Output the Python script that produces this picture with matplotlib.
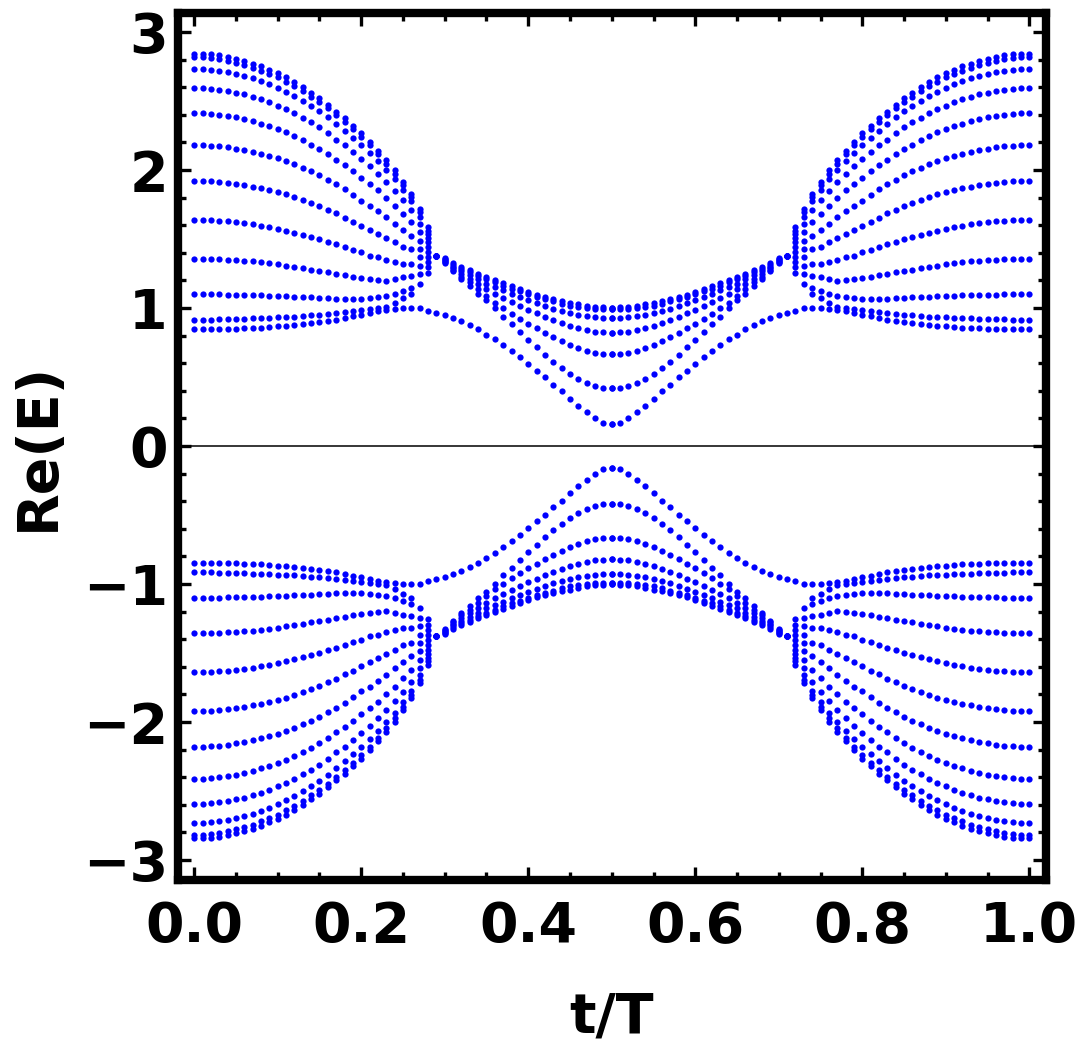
import numpy as np
import matplotlib.pyplot as plt
from matplotlib.ticker import MultipleLocator, FormatStrFormatter

plt.rcParams['font.family'] = ['DejaVu Sans']
plt.rcParams['font.weight'] = 'bold'

# The figure is mirror symmetric in t/T about 0.5 and in Re(E) about 0.
t_outer = np.round(np.arange(0, 29) * 0.01, 2)    # 0.00 ... 0.28
t_lowest = np.round(np.arange(0, 51) * 0.01, 2)   # 0.00 ... 0.50
t_inner = np.round(np.arange(29, 51) * 0.01, 2)   # 0.29 ... 0.50

# outer levels, top to bottom, until they pinch together near t/T = 0.28
band_1 = [2.843, 2.843, 2.838, 2.831, 2.821, 2.806, 2.792, 2.772, 2.751, 2.726, 2.700, 2.671, 2.637, 2.600, 2.561,
          2.520, 2.471, 2.423, 2.374, 2.318, 2.265, 2.204, 2.139, 2.071, 1.998, 1.913, 1.828, 1.719, 1.585]
band_2 = [2.816, 2.816, 2.811, 2.802, 2.792, 2.777, 2.763, 2.743, 2.721, 2.697, 2.671, 2.641, 2.610, 2.573, 2.532,
          2.491, 2.447, 2.399, 2.350, 2.294, 2.241, 2.180, 2.115, 2.047, 1.974, 1.889, 1.804, 1.694, 1.561]
band_3 = [2.731, 2.731, 2.726, 2.720, 2.710, 2.696, 2.683, 2.664, 2.645, 2.621, 2.597, 2.569, 2.537, 2.503, 2.466,
          2.427, 2.382, 2.333, 2.284, 2.233, 2.180, 2.124, 2.064, 2.003, 1.937, 1.852, 1.775, 1.658, 1.537]
band_4 = [2.593, 2.593, 2.589, 2.582, 2.574, 2.560, 2.548, 2.531, 2.512, 2.490, 2.467, 2.442, 2.412, 2.379, 2.345,
          2.309, 2.265, 2.221, 2.180, 2.132, 2.083, 2.027, 1.974, 1.913, 1.847, 1.784, 1.707, 1.610, 1.508]
band_5 = [2.411, 2.411, 2.407, 2.401, 2.393, 2.381, 2.370, 2.354, 2.337, 2.317, 2.297, 2.273, 2.246, 2.217, 2.185,
          2.153, 2.115, 2.076, 2.034, 1.991, 1.945, 1.901, 1.852, 1.799, 1.743, 1.682, 1.622, 1.549, 1.476]
band_6 = [2.180, 2.180, 2.177, 2.172, 2.165, 2.155, 2.146, 2.132, 2.118, 2.102, 2.084, 2.065, 2.042, 2.017, 1.991,
          1.964, 1.930, 1.896, 1.860, 1.821, 1.779, 1.743, 1.702, 1.658, 1.610, 1.566, 1.525, 1.488, 1.440]
band_7 = [1.920, 1.920, 1.917, 1.913, 1.908, 1.899, 1.891, 1.880, 1.868, 1.854, 1.840, 1.824, 1.805, 1.784, 1.762,
          1.739, 1.712, 1.687, 1.653, 1.627, 1.597, 1.566, 1.537, 1.508, 1.476, 1.444, 1.427, 1.427, 1.403]
band_8 = [1.639, 1.639, 1.636, 1.632, 1.628, 1.622, 1.616, 1.607, 1.597, 1.585, 1.573, 1.560, 1.546, 1.531, 1.515,
          1.498, 1.480, 1.464, 1.440, 1.423, 1.403, 1.379, 1.367, 1.347, 1.330, 1.318, 1.318, 1.367, 1.367]
band_9 = [1.355, 1.355, 1.355, 1.352, 1.350, 1.347, 1.343, 1.338, 1.333, 1.326, 1.318, 1.308, 1.298, 1.289, 1.279,
          1.269, 1.258, 1.250, 1.238, 1.226, 1.221, 1.209, 1.202, 1.197, 1.209, 1.226, 1.233, 1.306, 1.330]
band_10 = [1.100, 1.100, 1.100, 1.100, 1.097, 1.097, 1.095, 1.095, 1.092, 1.090, 1.088, 1.085, 1.083, 1.080, 1.078,
           1.075, 1.073, 1.068, 1.066, 1.066, 1.068, 1.071, 1.078, 1.088, 1.100, 1.120, 1.148, 1.245, 1.294]
band_11 = [0.913, 0.913, 0.915, 0.918, 0.918, 0.920, 0.923, 0.925, 0.927, 0.930, 0.932, 0.935, 0.937, 0.942, 0.947,
           0.952, 0.959, 0.966, 0.974, 0.980, 0.985, 0.992, 1.000, 1.010, 1.035, 1.075, 1.105, 1.172, 1.257]

# lowest level, followed over the whole half period
lowest = [0.845, 0.845, 0.845, 0.847, 0.850, 0.850, 0.852, 0.855, 0.857, 0.862, 0.867, 0.872, 0.876, 0.881, 0.889,
          0.896, 0.906, 0.915, 0.927, 0.940, 0.952, 0.964, 0.976, 0.988, 0.995, 1.000, 1.000, 0.998, 0.980, 0.966,
          0.949, 0.927, 0.903, 0.876, 0.845, 0.808, 0.772, 0.731, 0.687, 0.643, 0.597, 0.546, 0.498, 0.444, 0.396,
          0.342, 0.291, 0.243, 0.201, 0.170, 0.158]

# narrow group after the pinch point (t/T = 0.29 ... 0.50)
inner_1 = [1.379, 1.362, 1.323, 1.299, 1.275, 1.250, 1.226, 1.204, 1.182, 1.160, 1.139, 1.117, 1.097, 1.080, 1.064,
           1.051, 1.040, 1.028, 1.018, 1.010, 1.005, 1.003]
inner_2 = [1.379, 1.355, 1.313, 1.284, 1.258, 1.231, 1.209, 1.185, 1.163, 1.141, 1.122, 1.100, 1.083, 1.066, 1.049,
           1.032, 1.017, 1.005, 0.998, 0.993, 0.991, 0.990]
inner_3 = [1.379, 1.347, 1.299, 1.265, 1.236, 1.207, 1.177, 1.153, 1.129, 1.105, 1.080, 1.056, 1.034, 1.012, 0.993,
           0.976, 0.961, 0.949, 0.940, 0.932, 0.927, 0.925]
inner_4 = [1.379, 1.338, 1.289, 1.245, 1.209, 1.173, 1.136, 1.105, 1.075, 1.046, 1.017, 0.988, 0.961, 0.935, 0.910,
           0.889, 0.869, 0.852, 0.838, 0.828, 0.823, 0.821]
inner_5 = [1.379, 1.330, 1.275, 1.226, 1.185, 1.136, 1.088, 1.039, 0.998, 0.959, 0.920, 0.886, 0.852, 0.821, 0.789,
           0.760, 0.733, 0.711, 0.692, 0.677, 0.670, 0.668]
inner_6 = [1.379, 1.323, 1.265, 1.211, 1.163, 1.105, 1.056, 0.998, 0.937, 0.881, 0.825, 0.770, 0.714, 0.660, 0.609,
           0.563, 0.522, 0.488, 0.459, 0.437, 0.422, 0.418]

series = [(t_outer, b) for b in [band_1, band_2, band_3, band_4, band_5, band_6,
                                 band_7, band_8, band_9, band_10, band_11]]
series.append((t_lowest, lowest))
series += [(t_inner, b) for b in [inner_1, inner_2, inner_3, inner_4, inner_5, inner_6]]

fig = plt.figure(figsize=(10.84, 10.50), dpi=100)
ax = fig.add_axes([0.16375, 0.16238, 0.8012, 0.8257])

ax.axhline(0, color='black', lw=1.1, zorder=1)

for t, e in series:
    t = np.asarray(t)
    e = np.asarray(e)
    # four copies: the picture is symmetric in t/T -> 1 - t/T and Re(E) -> -Re(E)
    for tt in (t, 1 - t):
        for ee in (e, -e):
            ax.plot(tt, ee, 'o', ms=4.5, color='#0000ff', mec='none', zorder=2)

ax.set_xlim(-0.02, 1.02)
ax.set_ylim(-np.pi, np.pi)

ax.xaxis.set_major_locator(MultipleLocator(0.2))
ax.xaxis.set_minor_locator(MultipleLocator(0.05))
ax.xaxis.set_major_formatter(FormatStrFormatter('%.1f'))
ax.yaxis.set_major_locator(MultipleLocator(1))
ax.yaxis.set_minor_locator(MultipleLocator(0.2))

for s in ax.spines.values():
    s.set_linewidth(6)

ax.tick_params(which='both', direction='in', top=True, right=True, width=2.4, labelsize=40)
ax.tick_params(which='major', length=9.5)
ax.tick_params(which='minor', length=6)
ax.tick_params(axis='x', pad=14.5)
ax.tick_params(axis='y', pad=7)

fig.text(0.0492, 0.5752, 'Re(E)', rotation=90, rotation_mode='anchor',
         ha='center', va='baseline', fontsize=40, fontweight='bold')
fig.text(0.5643, 0.0162, 't/T', ha='center', va='baseline', fontsize=40, fontweight='bold')

fig.savefig('out.png', dpi=100)
